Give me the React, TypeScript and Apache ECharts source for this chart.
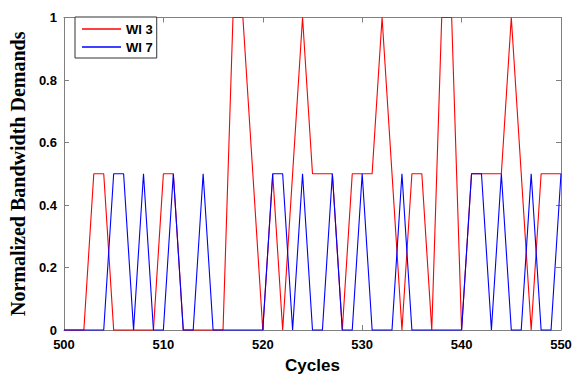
import React, { useEffect, useRef } from "react";
import * as echarts from "echarts";

const cycles = [
  500, 501, 502, 503, 504, 505, 506, 507, 508, 509,
  510, 511, 512, 513, 514, 515, 516, 517, 518, 519,
  520, 521, 522, 523, 524, 525, 526, 527, 528, 529,
  530, 531, 532, 533, 534, 535, 536, 537, 538, 539,
  540, 541, 542, 543, 544, 545, 546, 547, 548, 549,
  550,
];

const wi3 = [
  0, 0, 0, 0.5, 0.5, 0, 0, 0, 0, 0,
  0.5, 0.5, 0, 0, 0, 0, 0, 1, 1, 0.5,
  0, 0.5, 0, 0.5, 1, 0.5, 0.5, 0.5, 0, 0.5,
  0.5, 0.5, 1, 0.5, 0, 0.5, 0.5, 0, 1, 1,
  0, 0.5, 0.5, 0.5, 0.5, 1, 0.5, 0, 0.5, 0.5,
  0.5,
];

const wi7 = [
  0, 0, 0, 0, 0, 0.5, 0.5, 0, 0.5, 0,
  0, 0.5, 0, 0, 0.5, 0, 0, 0, 0, 0,
  0, 0.5, 0.5, 0, 0.5, 0, 0, 0.5, 0, 0,
  0.5, 0, 0, 0, 0.5, 0, 0, 0, 0, 0,
  0, 0.5, 0.5, 0, 0.5, 0, 0, 0.5, 0, 0,
  0.5,
];

const seriesNames = ["WI 3", "WI 7"];
const seriesColors = ["#ff0000", "#0000ff"];
const xTitle = "Cycles";
const yTitle = "Normalized Bandwidth Demands";

export default function App() {
  const ref = useRef<HTMLDivElement>(null);

  useEffect(() => {
    const chart = echarts.init(ref.current!, null, { renderer: "svg" });
    const axisColor = "#7f7f7f";
    const sans = "'Liberation Sans', Arial, sans-serif";
    const serif = "'Liberation Serif', 'Times New Roman', serif";
    const labelStyle = {
      fontFamily: sans,
      fontWeight: "bold" as const,
      fontSize: 13,
      color: "#000",
    };
    const axisLine = { show: true, onZero: false, lineStyle: { color: axisColor, width: 1 } };
    const axisTick = { show: true, inside: true, length: 5, lineStyle: { color: axisColor, width: 1 } };

    const mkSeries = (name: string, vals: number[], color: string) => ({
      name,
      type: "line",
      data: cycles.map((c, i) => [c, vals[i]]),
      symbol: "none",
      showSymbol: false,
      clip: false,
      lineStyle: { color, width: 1.1 },
      itemStyle: { color },
    });

    chart.setOption({
      animation: false,
      backgroundColor: "#ffffff",
      grid: { left: 53, right: 14, top: 17.5, bottom: 44.5, containLabel: false },
      legend: {
        orient: "vertical",
        left: 75,
        top: 17,
        padding: [5, 4, 4, 7],
        icon: "rect",
        itemWidth: 39,
        itemHeight: 1.5,
        itemGap: 4,
        borderColor: "#333",
        borderWidth: 1,
        backgroundColor: "#ffffff",
        textStyle: { fontFamily: sans, fontWeight: "bold", fontSize: 13, color: "#000", lineHeight: 14 },
        data: seriesNames,
      },
      xAxis: [
        {
          type: "value",
          min: 500,
          max: 550,
          interval: 10,
          position: "bottom",
          axisLine,
          axisTick,
          axisLabel: { ...labelStyle, margin: 8 },
          splitLine: { show: false },
          name: xTitle,
          nameLocation: "middle",
          nameGap: 27,
          nameTextStyle: { fontFamily: sans, fontWeight: "bold", fontSize: 17, color: "#000" },
        },
        {
          type: "value",
          min: 500,
          max: 550,
          interval: 10,
          position: "top",
          axisLine,
          axisTick,
          axisLabel: { show: false },
          splitLine: { show: false },
        },
      ],
      yAxis: [
        {
          type: "value",
          min: 0,
          max: 1,
          interval: 0.2,
          position: "left",
          axisLine,
          axisTick,
          axisLabel: { ...labelStyle, margin: 7 },
          splitLine: { show: false },
          name: yTitle,
          nameLocation: "middle",
          nameRotate: 90,
          nameGap: 28,
          nameTextStyle: { fontFamily: serif, fontWeight: "bold", fontSize: 20, color: "#000" },
        },
        {
          type: "value",
          min: 0,
          max: 1,
          interval: 0.2,
          position: "right",
          axisLine,
          axisTick,
          axisLabel: { show: false },
          splitLine: { show: false },
        },
      ],
      series: [
        mkSeries(seriesNames[0], wi3, seriesColors[0]),
        mkSeries(seriesNames[1], wi7, seriesColors[1]),
      ],
    });

    return () => chart.dispose();
  }, []);

  return (
    <div
      ref={ref}
      style={{ position: "absolute", left: 0, top: 0, width: 575, height: 379 }}
    />
  );
}
